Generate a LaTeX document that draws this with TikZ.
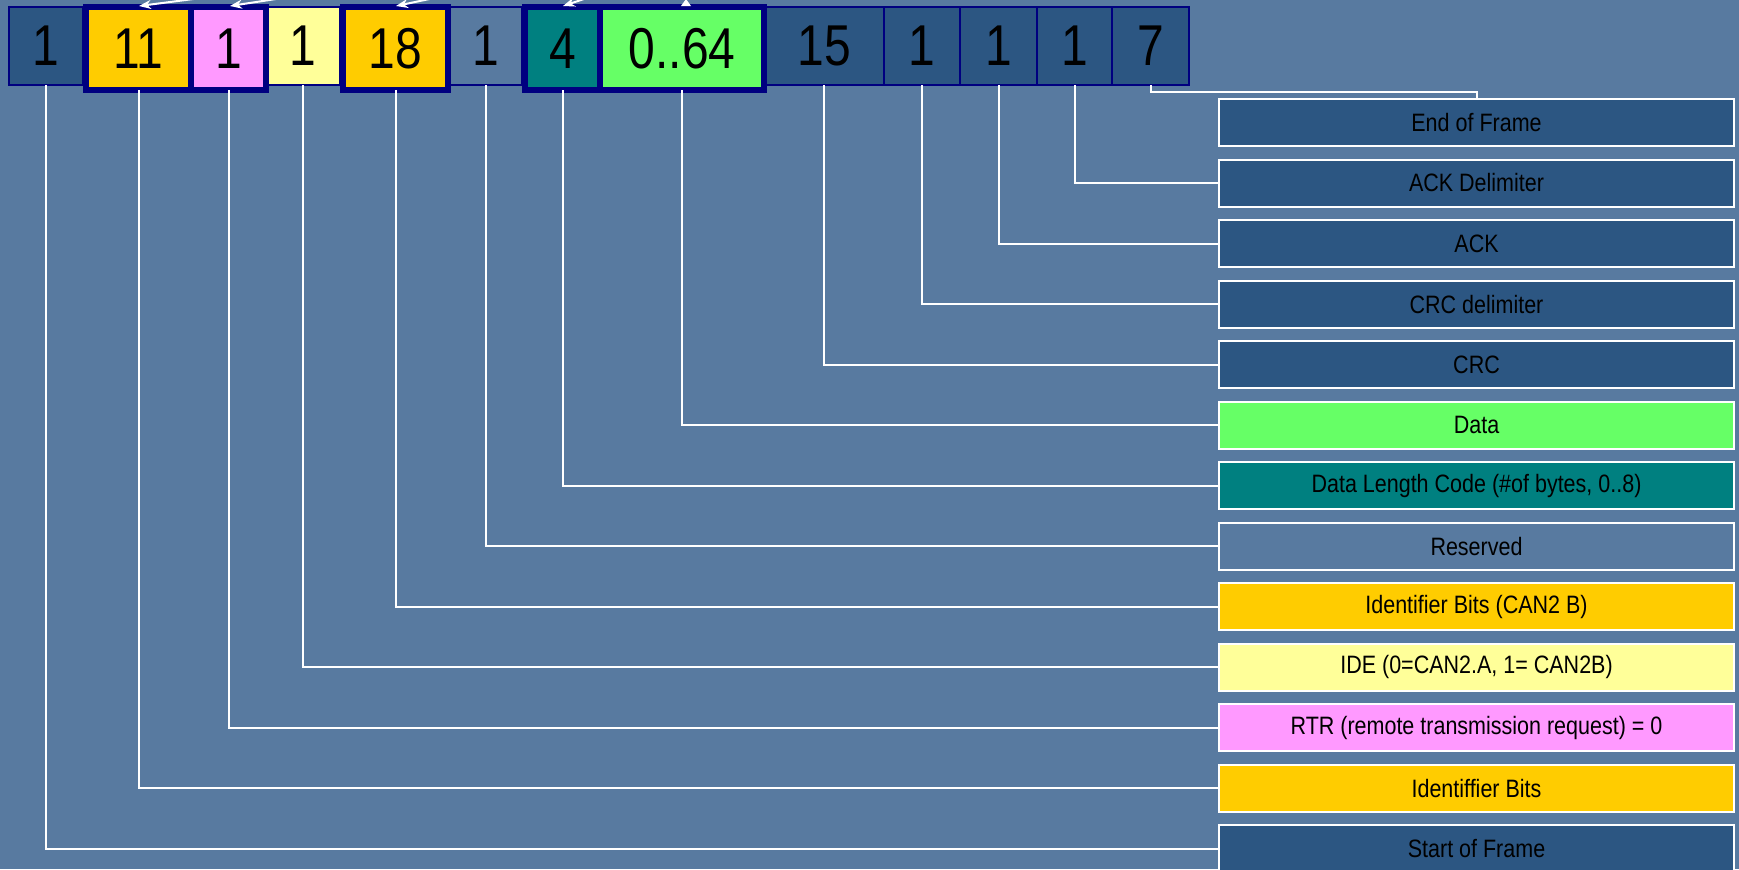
\documentclass[tikz,border=0pt]{standalone}
\usepackage{fontspec}
\usepackage{graphicx}
\setmainfont{Liberation Sans}
\usetikzlibrary{arrows.meta}
\definecolor{bg}{RGB}{88,122,160}
\definecolor{dkblue}{RGB}{44,86,130}
\definecolor{navy}{RGB}{0,0,128}
\definecolor{orng}{RGB}{255,204,0}
\definecolor{pnk}{RGB}{255,153,255}
\definecolor{ylw}{RGB}{255,255,153}
\definecolor{tealc}{RGB}{0,128,128}
\definecolor{grn}{RGB}{102,255,102}
\newcommand\bignum[1]{\scalebox{1}[1.2]{#1}}
\newcommand\lbltxt[1]{\scalebox{1}[1.17]{#1}}
\tikzset{
  thinbox/.style={draw=navy, line width=0.6pt, minimum height=39pt, inner sep=0pt, outer sep=0pt, font=\fontsize{24}{24}\selectfont},
  thickbox/.style={draw=navy, line width=3pt, minimum height=41.5pt, inner sep=0pt, outer sep=0pt, font=\fontsize{24}{24}\selectfont},
  lbl/.style={draw=white, line width=1pt, minimum width=257.5pt, minimum height=23.5pt, inner sep=0pt, outer sep=0pt, font=\fontsize{10.75}{12}\selectfont},
  conn/.style={draw=white, line width=1pt},
  stub/.style={draw=white, line width=1pt, -{Stealth[length=6pt,width=4.5pt]}},
}
\begin{document}
\begin{tikzpicture}[x=0.5pt,y=-0.5pt]
\useasboundingbox (0,0) rectangle (1739,869);
\clip (0,0) rectangle (1739,869);
\fill[bg] (0,0) rectangle (1739,869);

% top row: thin boxes
\node[thinbox, fill=dkblue, minimum width=37pt] (b1) at (46,46) {\bignum{1}};
\node[thinbox, fill=ylw, minimum width=37pt] (b4) at (303,46) {\bignum{1}};
\node[thinbox, minimum width=36.5pt] (b6) at (485.5,46) {\bignum{1}};
\node[thinbox, fill=dkblue, minimum width=60pt] (b9) at (824,46) {\bignum{15}};
\node[thinbox, fill=dkblue, minimum width=38pt] (b10) at (922,46) {\bignum{1}};
\node[thinbox, fill=dkblue, minimum width=38.5pt] (b11) at (998.5,46) {\bignum{1}};
\node[thinbox, fill=dkblue, minimum width=37.5pt] (b12) at (1074.5,46) {\bignum{1}};
\node[thinbox, fill=dkblue, minimum width=38.5pt] (b13) at (1150.5,46) {\bignum{7}};
% thick boxes
\node[thickbox, fill=orng, minimum width=52.5pt] (b2) at (138.5,48.5) {\bignum{11}};
\node[thickbox, fill=pnk, minimum width=37.5pt] (b3) at (228.5,48.5) {\bignum{1}};
\node[thickbox, fill=orng, minimum width=52.5pt] (b5) at (395.5,48.5) {\bignum{18}};
\node[thickbox, fill=tealc, minimum width=37.5pt] (b7) at (562.5,48.5) {\bignum{4}};
\node[thickbox, fill=grn, minimum width=82pt] (b8) at (682,48.5) {\bignum{0..64}};

% arrow stubs at the top edge
\draw[stub] (209,-3) -- (139,6);
\draw[stub] (289,-3) -- (230,6);
\draw[stub] (439,-3) -- (396,6);
\draw[stub] (590,-3) -- (563,6);
\fill[white] (681,6) -- (691,6) -- (686,-1) -- cycle;

% label boxes
\node[lbl, fill=dkblue] (l1) at (1476.5,122.5) {\lbltxt{End of Frame}};
\node[lbl, fill=dkblue] (l2) at (1476.5,183) {\lbltxt{ACK Delimiter}};
\node[lbl, fill=dkblue] (l3) at (1476.5,243.5) {\lbltxt{ACK}};
\node[lbl, fill=dkblue] (l4) at (1476.5,304) {\lbltxt{CRC delimiter}};
\node[lbl, fill=dkblue] (l5) at (1476.5,364.5) {\lbltxt{CRC}};
\node[lbl, fill=grn] (l6) at (1476.5,425) {\lbltxt{Data}};
\node[lbl, fill=tealc] (l7) at (1476.5,485.5) {\lbltxt{Data Length Code (\#of bytes, 0..8)}};
\node[lbl] (l8) at (1476.5,546) {\lbltxt{Reserved}};
\node[lbl, fill=orng] (l9) at (1476.5,606.5) {\lbltxt{Identifier Bits (CAN2 B)}};
\node[lbl, fill=ylw] (l10) at (1476.5,667) {\lbltxt{IDE (0=CAN2.A, 1= CAN2B)}};
\node[lbl, fill=pnk] (l11) at (1476.5,727.5) {\lbltxt{RTR (remote transmission request) = 0}};
\node[lbl, fill=orng] (l12) at (1476.5,788) {\lbltxt{Identiffier Bits}};
\node[lbl, fill=dkblue] (l13) at (1476.5,848.5) {\lbltxt{Start of Frame}};

% connectors
\draw[conn] (b13.south) -- ++(0,7) -| (l1.north);
\draw[conn] (b12.south) |- (l2.west);
\draw[conn] (b11.south) |- (l3.west);
\draw[conn] (b10.south) |- (l4.west);
\draw[conn] (b9.south) |- (l5.west);
\draw[conn] (b8.south) |- (l6.west);
\draw[conn] (b7.south) |- (l7.west);
\draw[conn] (b6.south) |- (l8.west);
\draw[conn] (b5.south) |- (l9.west);
\draw[conn] (b4.south) |- (l10.west);
\draw[conn] (b3.south) |- (l11.west);
\draw[conn] (b2.south) |- (l12.west);
\draw[conn] (b1.south) |- (l13.west);
\end{tikzpicture}
\end{document}
